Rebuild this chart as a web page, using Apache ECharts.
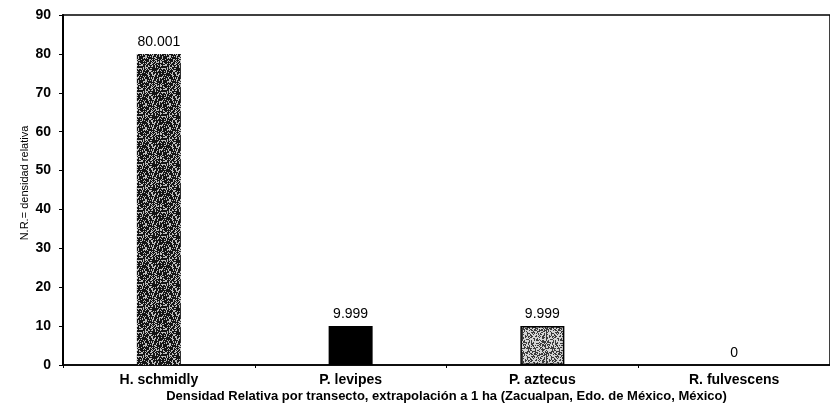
<!DOCTYPE html>
<html>
<head>
<meta charset="utf-8">
<script src="https://cdn.jsdelivr.net/npm/echarts@6/dist/echarts.min.js"></script>
<style>
  html, body { margin: 0; padding: 0; background: #fff; }
  #chart { width: 830px; height: 415px; }
</style>
</head>
<body>
<div id="chart"></div>
<script>
// Relative density per species
const species = ['H. schmidly', 'P. levipes', 'P. aztecus', 'R. fulvescens'];
const densidad = [80.001, 9.999, 9.999, 0];
const yTicks = [0, 10, 20, 30, 40, 50, 60, 70, 80, 90];

// Stippled fill: a tile of dots placed by a fixed-seed generator,
// so the texture is identical on every render
function stipple(base, dot, density, seed) {
  const size = 24;
  const c = document.createElement('canvas');
  c.width = size; c.height = size;
  const ctx = c.getContext('2d');
  ctx.fillStyle = base;
  ctx.fillRect(0, 0, size, size);
  ctx.fillStyle = dot;
  let s = seed >>> 0;
  const next = () => {
    s = (Math.imul(s, 1664525) + 1013904223) >>> 0;
    return s / 4294967296;
  };
  for (let y = 0; y < size; y++) {
    for (let x = 0; x < size; x++) {
      if (next() < density) ctx.fillRect(x, y, 1, 1);
    }
  }
  return { image: c, repeat: 'repeat' };
}

const fills = [
  stipple('#141414', '#bdbdbd', 0.32, 7),
  '#000000',
  stipple('#d4d4d4', '#3a3a3a', 0.42, 19),
  '#888888'
];

const chart = echarts.init(document.getElementById('chart'), null, { renderer: 'canvas' });
const font = 'Liberation Sans, Arial, sans-serif';

chart.setOption({
  animation: false,
  backgroundColor: '#fff',
  grid: {
    left: 63, right: -3, top: 15, bottom: 50,
    show: true, borderColor: '#000', borderWidth: 1.5, backgroundColor: 'transparent'
  },
  xAxis: {
    type: 'category',
    data: species,
    name: 'Densidad Relativa por transecto, extrapolación a 1 ha (Zacualpan, Edo. de México, México)',
    nameLocation: 'middle',
    nameGap: 25,
    nameMoveOverlap: false,
    nameTextStyle: { fontFamily: font, fontSize: 13, fontWeight: 'bold', color: '#000' },
    axisLine: { lineStyle: { color: '#000', width: 1.5 } },
    axisTick: { show: true, length: 3, lineStyle: { color: '#000' } },
    axisLabel: { fontFamily: font, fontSize: 14, fontWeight: 'bold', color: '#000', margin: 8 }
  },
  yAxis: {
    type: 'value',
    min: yTicks[0],
    max: yTicks[yTicks.length - 1],
    interval: 10,
    name: 'N.R.= densidad relativa',
    nameLocation: 'middle',
    nameGap: 33,
    nameMoveOverlap: false,
    nameTextStyle: { fontFamily: font, fontSize: 11, color: '#000', padding: [0, 0, 0, 14] },
    axisLine: { show: true, lineStyle: { color: '#000', width: 2 } },
    axisTick: { show: true, length: 4, lineStyle: { color: '#000' } },
    splitLine: { show: false },
    axisLabel: { fontFamily: font, fontSize: 14, fontWeight: 'bold', color: '#000', margin: 12 }
  },
  series: [{
    type: 'bar',
    barWidth: 44,
    data: densidad.map((v, i) => ({
      value: v,
      itemStyle: { color: fills[i], borderColor: '#000', borderWidth: i === 2 ? 1.5 : 0 }
    })),
    label: {
      show: true,
      position: 'top',
      distance: 5,
      fontFamily: font,
      fontSize: 14,
      color: '#000',
      formatter: p => String(p.value)
    }
  }]
});
</script>
</body>
</html>
